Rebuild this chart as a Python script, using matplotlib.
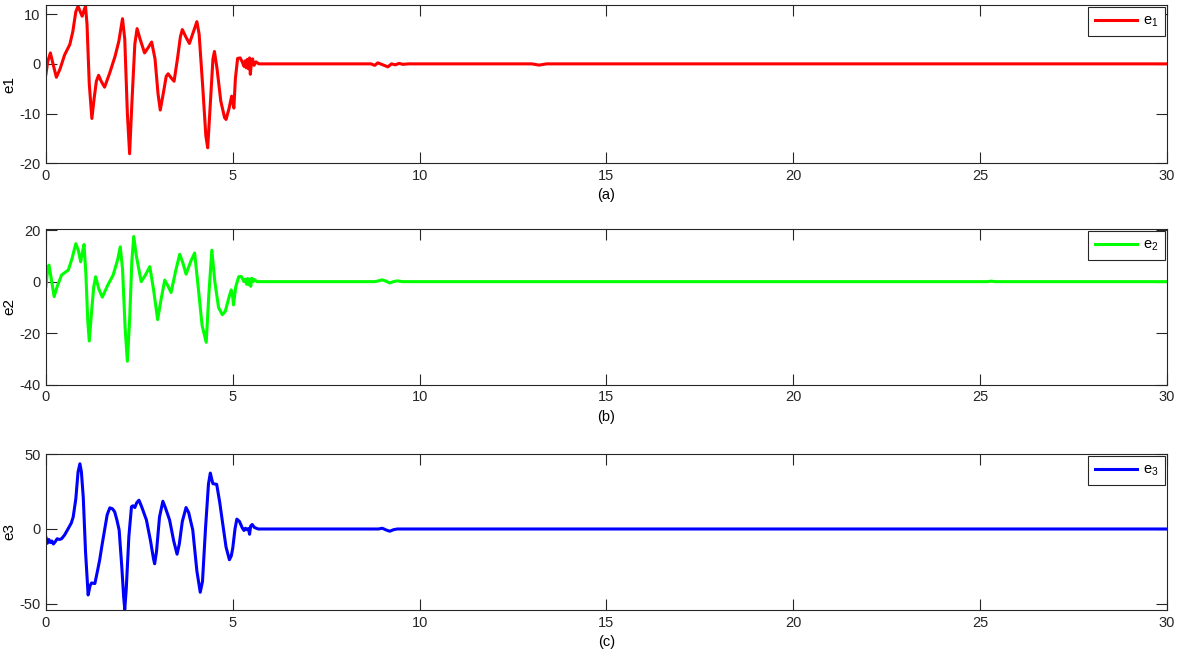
import matplotlib
matplotlib.use("Agg")
import matplotlib.pyplot as plt

plt.rcParams["font.family"] = ["Liberation Sans", "DejaVu Sans"]
plt.rcParams["mathtext.fontset"] = "custom"
plt.rcParams["mathtext.rm"] = "Liberation Sans"
plt.rcParams["mathtext.it"] = "Liberation Sans"
plt.rcParams["axes.unicode_minus"] = False

# error e1 (time, value)
t1 = [0.00, 0.05, 0.12, 0.19, 0.28, 0.38, 0.50, 0.64, 0.72, 0.80, 0.86, 0.92,
      0.97, 1.02, 1.06, 1.10, 1.16, 1.23, 1.29, 1.35, 1.41, 1.48, 1.57, 1.70,
      1.85, 1.95, 2.05, 2.11, 2.18, 2.24, 2.30, 2.38, 2.44, 2.52, 2.64, 2.74,
      2.83, 2.92, 3.00, 3.06, 3.14, 3.22, 3.27, 3.35, 3.43, 3.52, 3.60, 3.65,
      3.74, 3.84, 3.95, 4.04, 4.10, 4.20, 4.28, 4.33, 4.40, 4.47, 4.51, 4.58,
      4.68, 4.78, 4.82, 4.90, 4.97, 5.00, 5.03, 5.07, 5.13, 5.20, 5.26, 5.30,
      5.33, 5.36, 5.39, 5.42, 5.45, 5.47, 5.50, 5.53, 5.57, 5.62, 5.70, 8.70,
      8.80, 8.88, 8.95, 9.05, 9.15, 9.25, 9.35, 9.45, 9.55, 9.70, 13.0, 13.2,
      13.4, 30.0]
e1 = [-2.1, 0.5, 2.2, 0.0, -2.7, -1.0, 1.8, 3.9, 6.5, 10.5, 11.6, 10.5,
      9.6, 10.8, 11.6, 8.0, -4.0, -11.0, -7.0, -3.5, -2.3, -3.5, -4.7, -2.0,
      1.5, 4.5, 9.1, 5.0, -10.0, -18.1, -8.0, 4.0, 7.1, 5.0, 2.2, 3.3,
      4.4, 1.0, -6.0, -9.3, -6.0, -2.5, -2.0, -2.8, -3.5, 1.0, 5.5, 6.9,
      5.5, 4.1, 6.5, 8.5, 6.0, -5.0, -14.5, -16.9, -8.0, 1.0, 2.5, -1.0,
      -7.5, -10.8, -11.2, -9.0, -6.5, -7.8, -8.9, -3.0, 1.1, 1.2, 0.3, -0.5,
      0.6, -0.8, 0.9, -1.0, 1.2, -2.1, 0.3, 1.0, -0.3, 0.4, 0.0, 0.0,
      -0.3, 0.2, 0.0, -0.3, -0.6, 0.0, -0.2, 0.1, -0.1, 0.0, 0.0, -0.25,
      0.0, 0.0]

# error e2
t2 = [0.00, 0.04, 0.08, 0.14, 0.22, 0.30, 0.42, 0.60, 0.70, 0.80, 0.87, 0.93,
      0.98, 1.02, 1.07, 1.12, 1.16, 1.22, 1.28, 1.33, 1.42, 1.51, 1.65, 1.80,
      1.92, 1.99, 2.05, 2.12, 2.18, 2.24, 2.30, 2.35, 2.42, 2.55, 2.66, 2.78,
      2.88, 2.99, 3.08, 3.18, 3.26, 3.35, 3.47, 3.58, 3.66, 3.75, 3.88, 3.98,
      4.06, 4.18, 4.29, 4.36, 4.44, 4.52, 4.62, 4.72, 4.80, 4.90, 4.96, 5.00,
      5.02, 5.08, 5.16, 5.23, 5.30, 5.34, 5.37, 5.40, 5.43, 5.46, 5.48, 5.51,
      5.55, 5.58, 5.65, 8.80, 8.90, 9.00, 9.10, 9.20, 9.30, 9.40, 9.55, 25.2,
      25.3, 25.4, 30.0]
e2 = [-1.9, 3.5, 6.4, 1.5, -5.8, -2.0, 2.6, 4.5, 9.0, 14.7, 12.0, 7.7,
      11.5, 14.4, 3.0, -15.0, -23.0, -12.0, -2.0, 1.9, -3.0, -6.0, -1.5, 2.6,
      8.5, 13.5, 5.0, -18.0, -30.8, -15.0, 8.0, 17.5, 10.0, 0.0, 2.5, 5.8,
      -3.0, -14.7, -7.0, 0.6, -1.5, -4.2, 4.0, 10.6, 7.5, 2.9, 8.0, 11.1,
      0.0, -17.0, -23.5, -5.0, 12.2, 0.0, -10.0, -12.8, -11.5, -6.0, -3.2, -6.0,
      -9.0, -2.0, 1.9, 2.0, 0.0, 1.0, -1.0, 1.2, -1.2, 1.0, -1.8, 1.3,
      0.0, 0.8, 0.0, 0.0, 0.3, 0.7, 0.2, -0.5, 0.0, 0.3, 0.0, 0.0,
      0.2, 0.0, 0.0]

# error e3
t3 = [0.00, 0.04, 0.08, 0.12, 0.16, 0.20, 0.25, 0.30, 0.36, 0.42, 0.50, 0.60,
      0.68, 0.73, 0.80, 0.86, 0.91, 0.95, 1.00, 1.06, 1.13, 1.18, 1.22, 1.31,
      1.38, 1.44, 1.50, 1.57, 1.64, 1.71, 1.78, 1.84, 1.90, 1.96, 2.03, 2.08,
      2.11, 2.15, 2.22, 2.29, 2.33, 2.38, 2.43, 2.49, 2.56, 2.69, 2.80, 2.88,
      2.91, 2.96, 3.04, 3.13, 3.20, 3.31, 3.42, 3.51, 3.57, 3.65, 3.75, 3.82,
      3.93, 4.04, 4.13, 4.19, 4.27, 4.35, 4.40, 4.44, 4.47, 4.57, 4.65, 4.73,
      4.82, 4.91, 4.96, 5.00, 5.06, 5.11, 5.18, 5.25, 5.30, 5.34, 5.38, 5.42,
      5.45, 5.48, 5.52, 5.58, 5.68, 8.90, 9.00, 9.10, 9.20, 9.30, 9.40, 30.0]
e3 = [-5.5, -9.5, -7.0, -9.0, -8.0, -10.0, -8.5, -6.5, -7.0, -6.5, -4.0, 0.4,
      4.0, 8.0, 20.0, 38.0, 43.5, 38.0, 21.0, -15.0, -44.0, -38.0, -36.0, -36.4,
      -28.0, -20.5, -11.0, -0.7, 9.5, 14.1, 13.5, 11.5, 6.0, -0.7, -25.0, -45.0,
      -53.6, -40.0, -5.0, 14.8, 15.5, 14.3, 17.5, 19.2, 15.0, 6.0, -8.0, -20.0,
      -23.2, -15.0, 8.0, 18.5, 14.0, 6.0, -8.0, -16.8, -10.0, 5.0, 14.3, 11.0,
      -0.7, -28.0, -42.2, -35.0, 0.0, 30.0, 37.3, 33.0, 30.2, 29.8, 18.0, 3.8,
      -12.0, -20.5, -18.0, -12.8, 0.0, 6.6, 5.0, 1.0, -1.0, 0.5, -0.5, 0.3,
      -3.5, 2.0, 3.0, 1.0, 0.0, 0.0, 0.5, -0.6, -1.5, -0.5, 0.0, 0.0]

panels = [
    (t1, e1, "#ff0000", "e1", "e$_1$", "(a)", (-20, 11.8), [-20, -10, 0, 10]),
    (t2, e2, "#00ff00", "e2", "e$_2$", "(b)", (-40, 20.4), [-40, -20, 0, 20]),
    (t3, e3, "#0000ff", "e3", "e$_3$", "(c)", (-54, 50), [-50, 0, 50]),
]
boxes = [(0.039, 0.752, 0.9525, 0.240),
         (0.039, 0.415, 0.9525, 0.237),
         (0.039, 0.073, 0.9525, 0.237)]

fig = plt.figure(figsize=(11.77, 6.58), dpi=100)
for (t, e, col, ylab, leg, xlab, ylim, yt), box in zip(panels, boxes):
    ax = fig.add_axes(box)
    ax.plot(t, e, color=col, lw=2.2, label=leg)
    ax.set_xlim(0, 30)
    ax.set_ylim(*ylim)
    ax.set_xticks([0, 5, 10, 15, 20, 25, 30])
    ax.set_yticks(yt)
    ax.set_ylabel(ylab, fontsize=11, labelpad=2)
    ax.set_xlabel(xlab, fontsize=10.5, labelpad=4)
    ax.tick_params(direction="in", top=True, right=True, length=8,
                   width=0.8, labelsize=10.5, colors="#262626", pad=4)
    for s in ax.spines.values():
        s.set_color("#262626")
        s.set_linewidth(0.8)
    lg = ax.legend(loc="upper right", fontsize=10.5, handlelength=2.9,
                   fancybox=False, borderaxespad=0.15, framealpha=1,
                   borderpad=0.45, handletextpad=0.4)
    lg.get_frame().set_edgecolor("#262626")
    lg.get_frame().set_linewidth(0.8)

fig.savefig("out.png", dpi=100)
